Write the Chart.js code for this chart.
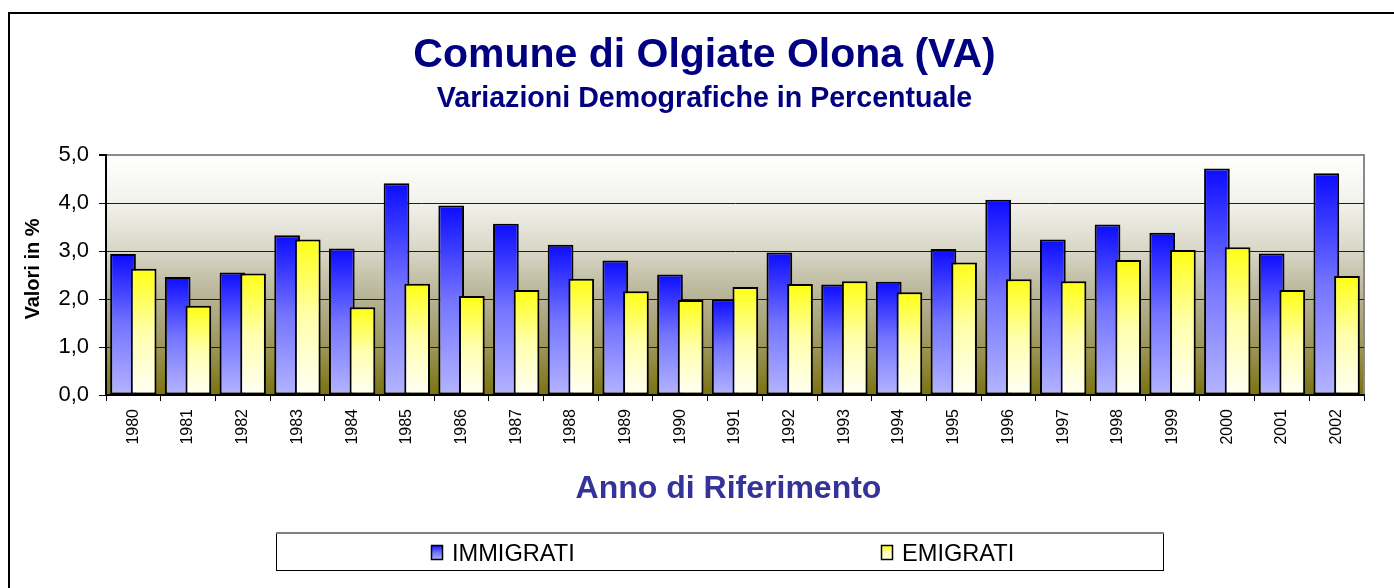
<!DOCTYPE html>
<html>
<head>
<meta charset="utf-8">
<script src="https://cdn.jsdelivr.net/npm/chart.js@4.4.1/dist/chart.umd.min.js"></script>
<style>
  html, body { margin: 0; padding: 0; background: #ffffff; }
  #wrap { position: relative; width: 1394px; height: 588px; }
</style>
</head>
<body>
<div id="wrap"><canvas id="c"></canvas></div>
<script>
const years = ['1980','1981','1982','1983','1984','1985','1986','1987','1988','1989','1990','1991','1992','1993','1994','1995','1996','1997','1998','1999','2000','2001','2002'];
const immigrati = [2.94,2.46,2.55,3.33,3.05,4.41,3.95,3.57,3.13,2.80,2.51,1.99,2.97,2.30,2.36,3.04,4.07,3.24,3.55,3.38,4.72,2.95,4.62];
const emigrati  = [2.63,1.86,2.53,3.24,1.83,2.32,2.06,2.19,2.42,2.16,1.98,2.25,2.31,2.37,2.14,2.76,2.41,2.37,2.81,3.02,3.08,2.19,2.48];
const seriesNames = ['IMMIGRATI', 'EMIGRATI'];
const titleText = 'Comune di Olgiate Olona (VA)';
const subtitleText = 'Variazioni Demografiche in Percentuale';
const xTitleText = 'Anno di Riferimento';
const yTitleText = 'Valori in %';

const FONT = '"Liberation Sans", Arial, sans-serif';
const blueStops = [[0,'#0c0cff'],[0.5,'#7474ff'],[1,'#b4b4ff']];
const yellowStops = [[0,'#ffff14'],[0.5,'#ffffac'],[1,'#fffff6']];

function makeGrad(ctx, y0, y1, stops) {
  const g = ctx.createLinearGradient(0, y0, 0, y1);
  stops.forEach(s => g.addColorStop(s[0], s[1]));
  return g;
}
function barGradient(stops) {
  return function(c) {
    const chart = c.chart;
    const ys = chart.scales && chart.scales.y;
    if (!ys || c.type !== 'data' || !chart.chartArea) return stops[1][1];
    const top = ys.getPixelForValue(c.raw);
    const base = ys.getPixelForValue(0);
    return makeGrad(chart.ctx, top, base, stops);
  };
}

const decor = {
  id: 'decor',
  beforeDraw(chart) {
    const ctx = chart.ctx, a = chart.chartArea;
    ctx.save();
    ctx.fillStyle = '#ffffff';
    ctx.fillRect(0, 0, chart.width, chart.height);
    const g = ctx.createLinearGradient(0, a.top, 0, a.bottom);
    g.addColorStop(0, '#ffffff');
    g.addColorStop(0.2, '#f2f2ec');
    g.addColorStop(0.4, '#d8d6c6');
    g.addColorStop(0.6, '#b6b294');
    g.addColorStop(0.8, '#9c965a');
    g.addColorStop(1, '#7a7210');
    ctx.fillStyle = g;
    ctx.fillRect(a.left, a.top, a.right - a.left, a.bottom - a.top);
    ctx.fillStyle = '#8a8a8a';
    ctx.fillRect(a.right - 1, a.top - 1, 2, a.bottom - a.top + 1);
    ctx.fillStyle = '#000000';
    ctx.fillRect(8, 12, 2, chart.height - 12);
    ctx.fillRect(8, 12, chart.width - 8, 2);
    ctx.restore();
  },
  beforeDatasetsDraw(chart) {
    for (let i = 0; i < chart.data.datasets.length; i++) {
      chart.getDatasetMeta(i).controller.draw();
    }
    return false;
  },
  afterDraw(chart) {
    const ctx = chart.ctx;
    ctx.save();
    ctx.textAlign = 'center';
    ctx.textBaseline = 'alphabetic';
    ctx.fillStyle = '#000080';
    ctx.font = 'bold 41px ' + FONT;
    ctx.fillText(titleText, 704.5, 67);
    ctx.font = 'bold 28.6px ' + FONT;
    ctx.fillText(subtitleText, 704.5, 107);
    ctx.fillStyle = '#333399';
    ctx.font = 'bold 32px ' + FONT;
    ctx.fillText(xTitleText, 728.5, 498);
    ctx.save();
    ctx.translate(33, 269);
    ctx.rotate(-Math.PI / 2);
    ctx.fillStyle = '#000000';
    ctx.font = 'bold 20px ' + FONT;
    ctx.textBaseline = 'middle';
    ctx.fillText(yTitleText, 0, 0);
    ctx.restore();
    ctx.fillStyle = '#ffffff';
    ctx.fillRect(276, 533, 888, 38);
    ctx.strokeStyle = '#000000';
    ctx.lineWidth = 1;
    ctx.strokeRect(276.5, 533.5, 887, 37);
    ctx.fillStyle = '#808080';
    ctx.fillRect(276, 532, 888, 2);
    const items = [
      { sx: 431, tx: 452, stops: blueStops, label: seriesNames[0] },
      { sx: 881, tx: 902, stops: yellowStops, label: seriesNames[1] }
    ];
    items.forEach(it => {
      ctx.fillStyle = makeGrad(ctx, 545, 560, it.stops);
      ctx.fillRect(it.sx, 545, 12, 15);
      ctx.strokeStyle = '#000000';
      ctx.lineWidth = 1.5;
      ctx.strokeRect(it.sx + 0.5, 545.5, 11, 14);
      ctx.fillStyle = '#000000';
      ctx.font = '23.6px ' + FONT;
      ctx.textAlign = 'left';
      ctx.textBaseline = 'alphabetic';
      ctx.fillText(it.label, it.tx, 561);
    });
    ctx.restore();
  }
};

new Chart(document.getElementById('c'), {
  type: 'bar',
  data: {
    labels: years,
    datasets: [
      {
        label: seriesNames[0],
        data: immigrati,
        backgroundColor: barGradient(blueStops),
        borderColor: '#000000',
        borderWidth: 2,
        borderSkipped: false,
        categoryPercentage: 0.755,
        barPercentage: 1.245
      },
      {
        label: seriesNames[1],
        data: emigrati,
        backgroundColor: barGradient(yellowStops),
        borderColor: '#000000',
        borderWidth: 2,
        borderSkipped: false,
        categoryPercentage: 0.755,
        barPercentage: 1.245
      }
    ]
  },
  options: {
    responsive: true,
    maintainAspectRatio: false,
    animation: false,
    layout: { padding: { top: 155, right: 30, bottom: 0, left: 0 } },
    plugins: {
      legend: { display: false },
      title: { display: false },
      tooltip: { enabled: false }
    },
    scales: {
      x: {
        afterFit(scale) { scale.height = 193; },
        grid: { offset: true, drawOnChartArea: false, tickLength: 6, color: '#000000', tickColor: '#000000' },
        border: { color: '#000000', width: 2 },
        ticks: {
          font: { family: FONT, size: 16 },
          color: '#000000',
          minRotation: 90,
          maxRotation: 90,
          autoSkip: false,
          padding: 8
        }
      },
      y: {
        min: 0,
        max: 5,
        afterFit(scale) { scale.width = 106; },
        grid: {
          color: c => (c.tick && c.tick.value === 5) ? '#8a8a8a' : '#1e1e1e',
          lineWidth: c => (c.tick && c.tick.value === 5) ? 2 : 1,
          tickColor: '#000000',
          tickLength: 7
        },
        border: { color: '#000000', width: 2 },
        ticks: {
          stepSize: 1,
          font: { family: FONT, size: 22 },
          color: '#000000',
          padding: 10,
          callback: v => Number(v).toFixed(1).replace('.', ',')
        }
      }
    }
  },
  plugins: [decor]
});
</script>
</body>
</html>
